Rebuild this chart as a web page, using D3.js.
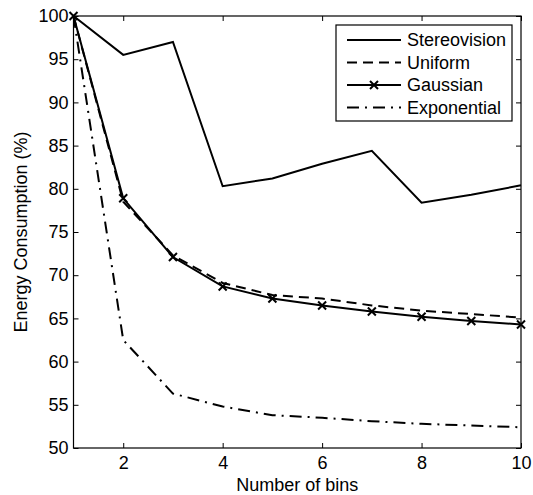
<!DOCTYPE html>
<html>
<head>
<meta charset="utf-8">
<script src="https://cdn.jsdelivr.net/npm/d3@7"></script>
<style>
  body { margin: 0; background: #fff; }
  text { font-family: "Liberation Sans", Arial, sans-serif; fill: #000; }
</style>
</head>
<body>
<div class="chart"></div>
<script>
// data
var bins = [1, 2, 3, 4, 5, 6, 7, 8, 9, 10];
var stereovision = [100, 95.5, 97.0, 80.3, 81.2, 82.9, 84.4, 78.4, 79.3, 80.4];
var uniform = [100, 78.5, 72.3, 69.1, 67.7, 67.3, 66.5, 65.9, 65.5, 65.1];
var gaussian = [100, 78.9, 72.1, 68.7, 67.3, 66.5, 65.8, 65.2, 64.7, 64.3];
var exponential = [100, 62.5, 56.3, 54.8, 53.8, 53.5, 53.1, 52.8, 52.6, 52.4];
var xTicks = [2, 4, 6, 8, 10];
var yTicks = [50, 55, 60, 65, 70, 75, 80, 85, 90, 95, 100];
var seriesNames = ['Stereovision', 'Uniform', 'Gaussian', 'Exponential'];

//Sizes
var W = 533, H = 495;
var plot = {left: 73.5, right: 521, top: 16, bottom: 448};

var svg = d3.select('.chart').append('svg')
            .attr('width', W)
            .attr('height', H);

var x = d3.scaleLinear().domain([1, 10]).range([plot.left, plot.right]);
var y = d3.scaleLinear().domain([50, 100]).range([plot.bottom, plot.top]);

//Styles per series
var styles = [
  {values: stereovision, dash: null, marker: false},
  {values: uniform, dash: '10,6', marker: false},
  {values: gaussian, dash: null, marker: true},
  {values: exponential, dash: '12,6,2,6', marker: false}
];

//Axes with inward ticks, box on all sides
var tickLen = 5;
svg.append('g')
   .attr('transform', 'translate(0,' + plot.bottom + ')')
   .call(d3.axisBottom(x).tickValues(xTicks).tickSizeInner(-tickLen).tickSizeOuter(0).tickPadding(8))
   .call(function(g) { g.select('.domain').remove(); })
   .selectAll('text').attr('font-size', 18);
svg.append('g')
   .attr('transform', 'translate(0,' + plot.top + ')')
   .call(d3.axisTop(x).tickValues(xTicks).tickSizeInner(-tickLen).tickSizeOuter(0).tickFormat(''))
   .call(function(g) { g.select('.domain').remove(); });
svg.append('g')
   .attr('transform', 'translate(' + plot.left + ',0)')
   .call(d3.axisLeft(y).tickValues(yTicks).tickSizeInner(-tickLen).tickSizeOuter(0).tickPadding(5))
   .call(function(g) { g.select('.domain').remove(); })
   .selectAll('text').attr('font-size', 18);
svg.append('g')
   .attr('transform', 'translate(' + plot.right + ',0)')
   .call(d3.axisRight(y).tickValues(yTicks).tickSizeInner(-tickLen).tickSizeOuter(0).tickFormat(''))
   .call(function(g) { g.select('.domain').remove(); });

svg.append('rect')
   .attr('x', plot.left).attr('y', plot.top)
   .attr('width', plot.right - plot.left)
   .attr('height', plot.bottom - plot.top)
   .attr('fill', 'none').attr('stroke', '#000').attr('stroke-width', 1.2);

//Lines
var line = d3.line()
             .x(function(d, i) { return x(bins[i]); })
             .y(function(d) { return y(d); });

styles.forEach(function(s) {
  svg.append('path')
     .datum(s.values)
     .attr('d', line)
     .attr('fill', 'none')
     .attr('stroke', '#000')
     .attr('stroke-width', 2)
     .attr('stroke-dasharray', s.dash);
  if (s.marker) {
    svg.selectAll(null)
       .data(s.values)
       .enter()
       .append('path')
       .attr('transform', function(d, i) { return 'translate(' + x(bins[i]) + ',' + y(d) + ')'; })
       .attr('d', 'M-4,-4L4,4M-4,4L4,-4')
       .attr('stroke', '#000')
       .attr('stroke-width', 2);
  }
});

//Axis titles
svg.append('text')
   .attr('x', (plot.left + plot.right) / 2)
   .attr('y', 491)
   .attr('text-anchor', 'middle')
   .attr('font-size', 18)
   .text('Number of bins');
svg.append('text')
   .attr('transform', 'translate(27,' + (plot.top + plot.bottom) / 2 + ') rotate(-90)')
   .attr('text-anchor', 'middle')
   .attr('font-size', 18)
   .text('Energy Consumption (%)');

//Legend
var legend = svg.append('g');
legend.append('rect')
      .attr('x', 336).attr('y', 25)
      .attr('width', 176).attr('height', 96)
      .attr('fill', '#fff').attr('stroke', '#000').attr('stroke-width', 1.2);

var items = legend.selectAll('g.item')
                  .data(seriesNames)
                  .enter()
                  .append('g')
                  .attr('class', 'item')
                  .attr('transform', function(d, i) { return 'translate(0,' + (40 + i * 22.5) + ')'; });
items.append('line')
     .attr('x1', 347).attr('x2', 401)
     .attr('stroke', '#000')
     .attr('stroke-width', 2)
     .attr('stroke-dasharray', function(d, i) { return styles[i].dash; });
items.filter(function(d, i) { return styles[i].marker; })
     .append('path')
     .attr('transform', 'translate(374,0)')
     .attr('d', 'M-4,-4L4,4M-4,4L4,-4')
     .attr('stroke', '#000')
     .attr('stroke-width', 2);
items.append('text')
     .attr('x', 407)
     .attr('dy', '0.35em')
     .attr('font-size', 18)
     .text(function(d) { return d; });
</script>
</body>
</html>
